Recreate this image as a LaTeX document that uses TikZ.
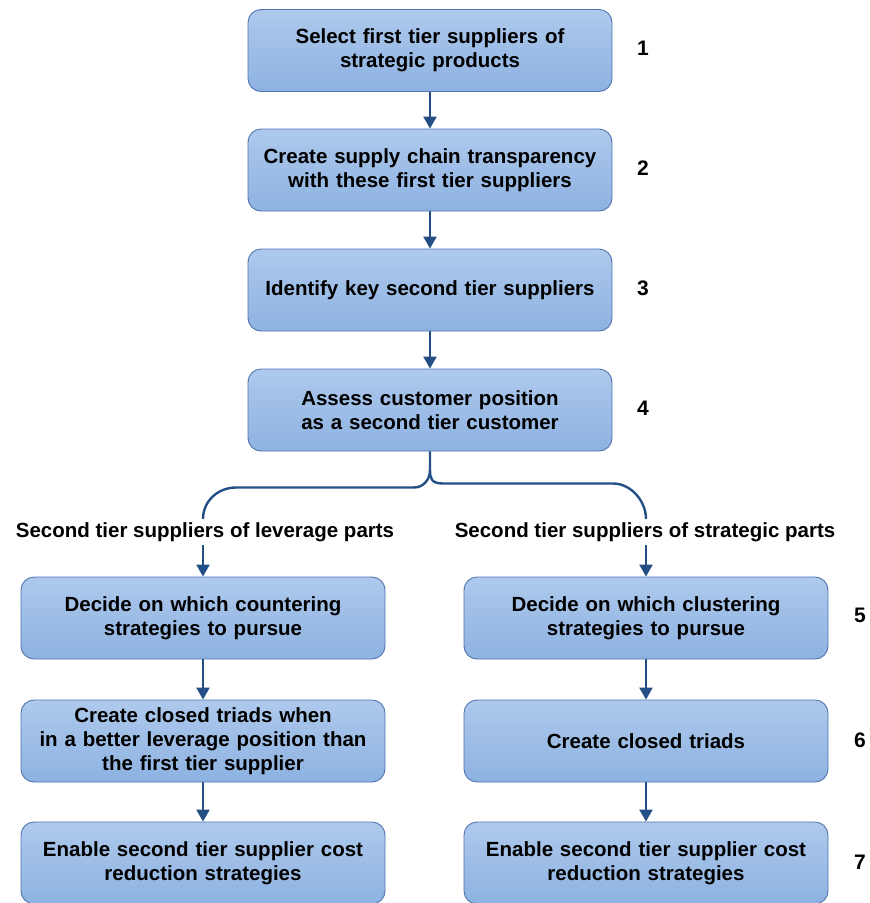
\documentclass[tikz,border=0pt]{standalone}
\usepackage{fontspec}
\setmainfont{Liberation Sans}
\usetikzlibrary{arrows.meta}
\definecolor{boxtop}{HTML}{AEC9EC}
\definecolor{boxbot}{HTML}{8DB2E1}
\definecolor{boxline}{HTML}{4F74AE}
\definecolor{flow}{HTML}{244E86}
\begin{document}
\begin{tikzpicture}[x=1pt,y=-1pt,
  stepbox/.style={draw=boxline, line width=0.9pt, rounded corners=13pt,
    top color=boxtop, bottom color=boxbot, minimum width=364pt,
    minimum height=82pt, align=center, text width=355pt,
    font=\bfseries\fontsize{20.5}{24}\selectfont, inner sep=0pt},
  numlabel/.style={font=\bfseries\fontsize{21}{24}\selectfont},
  branchlabel/.style={font=\bfseries\fontsize{20.5}{24}\selectfont, inner sep=0pt},
  conn/.style={draw=flow, line width=2.4pt},
  arr/.style={conn, -{Triangle[length=12pt,width=13pt]}}]
\useasboundingbox (0,0) rectangle (870,903);
% main column
\node[stepbox] (b1) at (430,50.5) {Select first tier suppliers of\\strategic products};
\node[stepbox] (b2) at (430,170) {Create supply chain transparency\\with these first tier suppliers};
\node[stepbox] (b3) at (430,290) {Identify key second tier suppliers};
\node[stepbox] (b4) at (430,410) {Assess customer position\\as a second tier customer};
\node[numlabel] (n1) at (643,48) {1};
\node[numlabel] (n2) at (643,168) {2};
\node[numlabel] (n3) at (643,288) {3};
\node[numlabel] (n4) at (643,408) {4};
% branch labels
\node[branchlabel] (llab) at (205,532) {Second tier suppliers of leverage parts};
\node[branchlabel] (rlab) at (645,532) {Second tier suppliers of strategic parts};
% left column
\node[stepbox] (l5) at (203,618) {Decide on which countering\\strategies to pursue};
\node[stepbox] (l6) at (203,741) {Create closed triads when\\in a better leverage position than\\the first tier supplier};
\node[stepbox] (l7) at (203,863) {Enable second tier supplier cost\\reduction strategies};
% right column
\node[stepbox] (r5) at (646,618) {Decide on which clustering\\strategies to pursue};
\node[stepbox] (r6) at (646,741) {Create closed triads};
\node[stepbox] (r7) at (646,863) {Enable second tier supplier cost\\reduction strategies};
\node[numlabel] (n5) at (860,615) {5};
\node[numlabel] (n6) at (860,740) {6};
\node[numlabel] (n7) at (860,862) {7};
% arrows
\draw[arr] (b1) -- (b2);
\draw[arr] (b2) -- (b3);
\draw[arr] (b3) -- (b4);
% brace-like split below step 4
\coordinate (split) at (430,470);
\coordinate (lend) at (203,519);
\coordinate (rend) at (646,519);
\draw[conn] (b4.south) -- (split) .. controls (430,480) and (423,487.5) .. (414,487.5)
  -- (236,487.5) .. controls (218,487.5) and (203,501) .. (lend);
\draw[conn] (split) .. controls (430,478) and (431,483.5) .. (443,483.5)
  -- (613,483.5) .. controls (631,483.5) and (646,501) .. (rend);
\draw[arr] (203,545) -- (l5.north);
\draw[arr] (646,545) -- (r5.north);
\draw[arr] (l5) -- (l6);
\draw[arr] (l6) -- (l7);
\draw[arr] (r5) -- (r6);
\draw[arr] (r6) -- (r7);
\end{tikzpicture}
\end{document}
